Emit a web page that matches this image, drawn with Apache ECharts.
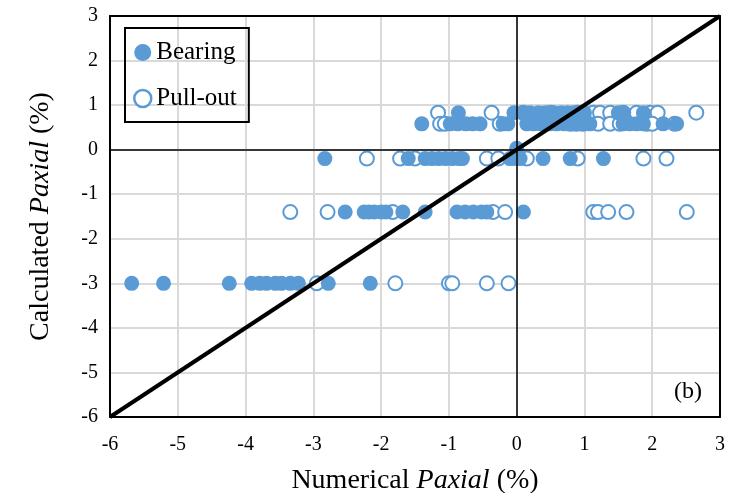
<!DOCTYPE html>
<html>
<head>
<meta charset="utf-8">
<script src="https://cdn.jsdelivr.net/npm/echarts@6/dist/echarts.min.js"></script>
<style>
  html, body { margin: 0; padding: 0; background: #fff; }
  #chart { width: 730px; height: 493px; }
</style>
</head>
<body>
<div id="chart"></div>
<script>
// rows of calculated values (y) and numerical values (x)
const rowLevels = [0.83, 0.58, -0.2, -1.4, -3.0];

const bearingX = [
  [-0.86, -0.04, 0.08, 0.2, 0.32, 0.42, 0.55, 0.66, 0.75, 0.84, 0.92, 1.0, 1.5, 1.58, 1.87],
  [-1.4, -0.98, -0.87, -0.75, -0.65, -0.54, -0.2, -0.13, 0.15, 0.25, 0.35, 0.49, 0.59, 0.7, 0.82, 0.95, 1.08, 1.57, 1.67, 1.77, 1.87, 2.16, 2.36],
  [-2.83, -1.6, -1.35, -1.25, -1.15, -1.05, -0.95, -0.85, -0.8, -0.1, -0.02, 0.05, 0.39, 0.79, 1.28],
  [-2.53, -2.25, -2.18, -2.1, -2.0, -1.93, -1.68, -1.35, -0.88, -0.76, -0.64, -0.52, -0.44, 0.1],
  [-5.68, -5.21, -4.24, -3.91, -3.79, -3.69, -3.56, -3.47, -3.34, -3.22, -2.78, -2.16]
];
const bearingExtra = [[0, 0.03]];

const pulloutX = [
  [-1.16, -0.37, 0.1, 0.5, 0.9, 1.13, 1.23, 1.38, 1.57, 1.77, 1.97, 2.08, 2.65],
  [-1.13, -1.06, -0.25, 0.4, 0.79, 0.88, 0.98, 1.2, 1.38, 1.52, 1.92, 2.0, 2.33],
  [-2.21, -1.72, -1.5, -0.44, -0.27, 0.15, 0.9, 1.87, 2.21],
  [-3.34, -2.79, -1.83, -0.35, -0.17, 1.13, 1.2, 1.35, 1.62, 2.51],
  [-2.95, -1.79, -1.0, -0.95, -0.44, -0.12]
];

const equalityLine = [[-6, -6], [3, 3]];

function toPoints(rows) {
  const pts = [];
  rows.forEach((xs, i) => xs.forEach(x => pts.push([x, rowLevels[i]])));
  return pts;
}

const blue = '#5b9bd5';
const serif = '"Liberation Serif", "DejaVu Serif", serif';
const titleRich = {
  a: { fontFamily: serif, fontSize: 28, color: '#000' },
  b: { fontFamily: serif, fontSize: 28, color: '#000', fontStyle: 'italic' }
};
const frameLine = { show: true, onZero: false, lineStyle: { color: '#000', width: 2 } };

const chart = echarts.init(document.getElementById('chart'));
chart.setOption({
  animation: false,
  grid: {
    left: 110, right: 10, top: 16, bottom: 76,
    outerBoundsMode: 'none',
    containLabel: false
  },
  legend: {
    left: 125, top: 28,
    orient: 'vertical',
    padding: [12, 12, 11, 8],
    itemGap: 21,
    itemWidth: 17, itemHeight: 17,
    borderColor: '#000', borderWidth: 2,
    textStyle: { fontFamily: serif, fontSize: 25, color: '#000' },
    data: [
      { name: 'Bearing', icon: 'circle' },
      { name: 'Pull-out', icon: 'circle', itemStyle: { color: '#fff', borderColor: blue, borderWidth: 2.5 } }
    ]
  },
  xAxis: [
    {
      type: 'value', min: -6, max: 3, interval: 1,
      name: '{a|Numerical }{b|Paxial}{a| (%)}',
      nameLocation: 'middle', nameGap: 50,
      nameTextStyle: { rich: titleRich },
      axisLine: frameLine,
      axisTick: { show: false },
      axisLabel: { margin: 18, fontFamily: serif, fontSize: 20, color: '#000' },
      splitLine: { lineStyle: { color: '#d9d9d9', width: 2 } }
    },
    {
      type: 'value', min: -6, max: 3, interval: 1, position: 'top',
      axisLine: frameLine, axisTick: { show: false },
      axisLabel: { show: false }, splitLine: { show: false }
    }
  ],
  yAxis: [
    {
      type: 'value', min: -6, max: 3, interval: 1,
      name: '{a|Calculated }{b|Paxial}{a| (%)}',
      nameLocation: 'middle', nameGap: 55,
      nameTextStyle: { rich: titleRich },
      axisLine: frameLine,
      axisTick: { show: false },
      axisLabel: { margin: 12, fontFamily: serif, fontSize: 20, color: '#000' },
      splitLine: { lineStyle: { color: '#d9d9d9', width: 2 } }
    },
    {
      type: 'value', min: -6, max: 3, interval: 1, position: 'right',
      axisLine: frameLine, axisTick: { show: false },
      axisLabel: { show: false }, splitLine: { show: false }
    }
  ],
  series: [
    {
      name: '1:1',
      type: 'line',
      data: equalityLine,
      symbol: 'none',
      silent: true,
      lineStyle: { color: '#000', width: 4 },
      markLine: {
        silent: true,
        symbol: 'none',
        label: { show: false },
        lineStyle: { color: '#000', width: 1.5, type: 'solid' },
        data: [{ xAxis: 0 }, { yAxis: 0 }]
      }
    },
    {
      name: 'Pull-out',
      type: 'scatter',
      symbol: 'circle',
      symbolSize: 14,
      itemStyle: { color: '#fff', borderColor: blue, borderWidth: 2, opacity: 1 },
      data: toPoints(pulloutX)
    },
    {
      name: 'Bearing',
      type: 'scatter',
      symbol: 'circle',
      symbolSize: 15,
      itemStyle: { color: blue, opacity: 1 },
      data: toPoints(bearingX).concat(bearingExtra)
    }
  ],
  graphic: [
    {
      type: 'text', right: 28, top: 380,
      style: { text: '(b)', font: '24px ' + serif, fill: '#000' }
    }
  ]
});
</script>
</body>
</html>
